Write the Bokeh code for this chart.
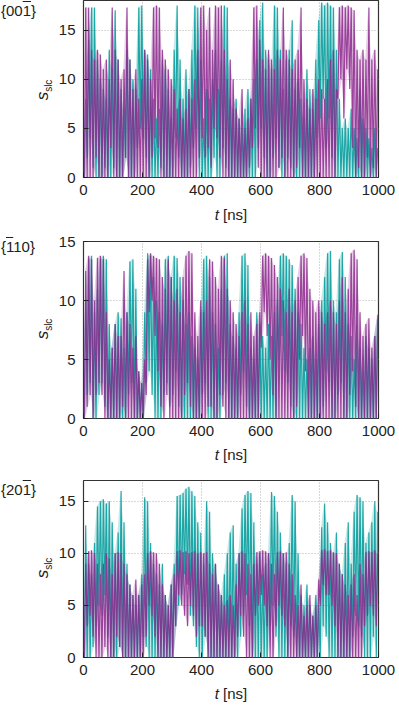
from bokeh.plotting import figure
from bokeh.models import Range1d, FixedTicker, Div
from bokeh.layouts import column, row
from bokeh.embed import file_html
from bokeh.resources import INLINE

# ---------------- data (10 ns bins: low / high of each trace) ----------------
BIN_NS = 10
x_ticks = [0, 200, 400, 600, 800, 1000]
y_ticks = [0, 5, 10, 15]
panel_labels = ['{00<span style="text-decoration:overline">1</span>}',
                '{<span style="text-decoration:overline">1</span>10}',
                '{20<span style="text-decoration:overline">1</span>}']
x_title = "<i>t</i> [ns]"
y_title = '<i>s</i><sub style="font-size:10px">slc</sub>'

s001_teal_hi = [8, 14, 17.3, 17.3, 12, 10, 9, 8, 13, 11,
                17, 12, 9, 7, 13, 12, 10, 9, 17.3, 17.5,
                13, 12.5, 11, 8, 6, 7, 12, 11, 9, 6,
                13, 17.5, 12, 8, 11, 9, 13, 17.5, 17.3, 12,
                6, 9, 8, 10, 13, 9, 12, 17.5, 17.3, 8,
                7, 8, 6, 5, 7, 9, 8, 10, 12, 16,
                17.8, 13, 12, 11, 17.5, 17.3, 13, 9, 12, 13,
                16, 9, 10, 8, 6, 11, 9, 7, 12, 16,
                17.8, 17.5, 17.8, 17.5, 17.3, 13, 8, 5, 6, 5,
                7, 5, 4, 9, 6, 5, 4, 3, 5, 3]
s001_teal_lo = [0, 2, 4, 1, 0, 0, 0, 1, 0, 0,
                1, 0, 0, 0, 2, 0, 0, 0, 3, 5,
                4, 2, 0, 0, 0, 0, 1, 0, 0, 0,
                0, 4, 2, 0, 0, 0, 1, 3, 5, 0,
                0, 0, 0, 0, 2, 0, 0, 3, 1, 0,
                0, 0, 0, 0, 0, 0, 0, 0, 0, 3,
                5, 2, 0, 0, 2, 4, 1, 0, 0, 2,
                1, 0, 0, 0, 0, 0, 0, 0, 0, 4,
                6, 8, 3, 6, 2, 0, 0, 0, 0, 0,
                0, 0, 0, 0, 0, 0, 0, 0, 0, 0]
s001_purple_hi = [17.3, 17.3, 13, 12, 13, 12.5, 11, 12, 10, 17.3,
                  13, 12, 10, 11, 17.3, 12, 9, 11, 8, 10,
                  13, 12, 10, 17.3, 17.5, 17.3, 13, 12, 11, 10,
                  9, 7, 8, 6, 7, 9, 8, 10, 13, 17.3,
                  17.5, 15, 17.3, 13, 17.5, 17.3, 17.5, 13, 10, 12,
                  10, 7, 6, 9, 5, 6, 8, 17.3, 17.5, 14,
                  12, 11, 13, 12, 11, 13, 12, 17.3, 13, 12,
                  11, 12, 13, 17.3, 10, 8, 7, 9, 8, 10,
                  9, 8, 10, 12, 13, 9, 17.3, 17.5, 17.3, 17.5,
                  17.3, 17, 13, 12, 13, 12, 17.3, 12, 13, 11]
s001_purple_lo = [0, 0, 0, 0, 2, 0, 0, 0, 0, 3,
                  0, 0, 0, 0, 2, 0, 0, 0, 0, 0,
                  0, 0, 0, 2, 4, 3, 0, 0, 0, 0,
                  0, 0, 0, 0, 0, 0, 0, 0, 0, 2,
                  4, 2, 3, 1, 5, 4, 2, 0, 0, 0,
                  0, 0, 0, 0, 0, 0, 1, 3, 5, 1,
                  0, 0, 0, 0, 0, 0, 1, 2, 0, 0,
                  0, 0, 1, 3, 0, 0, 0, 0, 0, 0,
                  0, 0, 0, 0, 0, 0, 8, 10, 6, 11,
                  9, 3, 0, 1, 0, 0, 2, 0, 1, 0]

s110_teal_hi = [10, 13.5, 13.8, 9, 11, 13.5, 13.8, 13.5, 8, 6,
                8, 9, 8.5, 6, 9, 13.3, 13.5, 11, 4, 3,
                9, 14, 13.8, 12, 10, 9, 8, 13.5, 13.8, 12,
                13.8, 13.6, 12, 10, 8, 9, 7, 6, 5, 9,
                13.5, 13.8, 12, 9, 8, 6, 11, 13.8, 14, 8,
                7, 6, 9, 13.8, 14, 13, 6, 5, 9, 8,
                7, 6, 8, 7, 9, 10, 13.8, 14, 13.8, 13.5,
                13, 11, 9, 8, 6, 5, 6, 7, 5, 8,
                10, 12, 14, 14.2, 10, 9, 13.5, 14.1, 12, 8,
                7, 5, 8, 6, 4, 7, 6, 5, 7, 8.5]
s110_teal_lo = [0, 2, 3, 0, 0, 2, 3, 1, 0, 0,
                0, 0, 0, 0, 0, 2, 3, 0, 0, 0,
                0, 3, 4, 2, 0, 0, 0, 2, 3, 1,
                2, 4, 1, 0, 0, 0, 0, 0, 0, 0,
                2, 3, 0, 0, 0, 0, 0, 2, 3, 0,
                0, 0, 0, 2, 4, 1, 0, 0, 0, 0,
                0, 0, 0, 0, 0, 0, 5, 7, 4, 3,
                1, 0, 0, 0, 0, 0, 0, 0, 0, 0,
                0, 1, 4, 3, 0, 0, 2, 3, 0, 0,
                0, 0, 0, 0, 0, 0, 0, 0, 0, 0]
s110_purple_hi = [12.5, 13.8, 13.5, 10, 13.6, 13.8, 13.5, 9, 5, 6,
                  8, 7, 7, 12.5, 9, 8, 6, 7, 4, 3,
                  5, 13.5, 14, 13.8, 13.6, 13.5, 12, 11, 13.5, 12,
                  10, 11, 9, 12, 13.8, 14.2, 14, 9, 7, 10,
                  9, 10, 13.5, 13.3, 12, 11, 13.8, 13.6, 11, 10,
                  9, 8, 7, 9, 10, 8, 9, 7, 8, 9,
                  13.8, 14, 13.8, 13.6, 13, 12, 11, 10, 9, 11,
                  9, 10, 12, 13.8, 14, 13.6, 11, 10, 9, 10,
                  9, 8, 9, 10, 9, 8, 10, 12, 9, 11,
                  14, 14.3, 13.5, 9, 7, 8, 8.5, 6, 7, 8.8]
s110_purple_lo = [0, 1, 2, 0, 2, 3, 2, 0, 0, 0,
                  0, 0, 0, 1, 0, 0, 0, 0, 0, 0,
                  0, 2, 9, 10, 7, 4, 1, 0, 2, 0,
                  0, 0, 0, 0, 2, 3, 1, 0, 0, 0,
                  0, 0, 1, 1, 0, 0, 2, 1, 0, 0,
                  0, 0, 0, 0, 0, 0, 0, 0, 0, 0,
                  6, 9, 7, 5, 2, 0, 0, 0, 0, 0,
                  0, 0, 1, 5, 7, 4, 0, 0, 0, 0,
                  0, 0, 0, 0, 0, 0, 0, 0, 0, 0,
                  2, 4, 1, 0, 0, 0, 0, 0, 0, 0]

s201_teal_hi = [12.7, 9, 8, 11, 14.5, 15, 15.2, 14.8, 15, 13,
                10, 12, 16, 13, 9, 7, 6, 5, 6, 8,
                15.4, 15, 11, 9, 8, 7, 9, 6, 5, 7,
                9, 15.5, 15.6, 15.8, 16.2, 16.4, 16, 15.5, 13, 12,
                9, 15, 14, 10, 9, 7, 6, 8, 10, 12,
                12.7, 9, 10, 14.3, 15.6, 16, 15.8, 13, 9, 10,
                8, 9, 10, 15.9, 15.5, 14, 12, 10, 9, 11,
                15.6, 15, 10, 6, 5, 7, 5, 4, 6, 5,
                12.5, 14.8, 13, 11, 10, 12, 9, 8, 11, 13,
                9, 14, 15.6, 15.4, 15, 11, 12, 13, 15, 14]
s201_teal_lo = [0, 0, 0, 1, 3, 5, 4, 6, 2, 0,
                0, 0, 1, 0, 0, 0, 0, 0, 0, 0,
                2, 1, 0, 0, 0, 0, 0, 0, 0, 0,
                0, 3, 5, 6, 8, 7, 4, 3, 1, 0,
                0, 2, 0, 0, 0, 0, 0, 0, 0, 0,
                0, 0, 0, 2, 4, 6, 3, 0, 0, 0,
                0, 0, 0, 3, 5, 2, 0, 0, 0, 0,
                3, 2, 0, 0, 0, 0, 0, 0, 0, 0,
                0, 3, 2, 0, 0, 0, 0, 0, 0, 0,
                0, 2, 4, 3, 2, 0, 0, 0, 2, 0]
s201_purple_hi = [9, 10.2, 10.3, 10, 9, 8, 9, 10, 9.5, 8,
                  10, 10.1, 10, 9, 8, 7, 6, 7.5, 6, 7,
                  8, 10, 10.2, 10.1, 10, 9, 7, 6, 5, 7,
                  8, 10.2, 10.3, 10.1, 10.2, 10, 10.1, 10.2, 10, 10.1,
                  10, 10.1, 9, 8, 9, 7, 6, 5, 5.5, 6,
                  5, 7, 10, 10.2, 10, 9, 8, 9, 10.1, 10.2,
                  10.3, 10.2, 10, 9, 8, 10.1, 10.2, 10, 10.1, 9,
                  8, 6, 5, 7, 4, 5, 6, 4, 5, 7.5,
                  10.3, 10.4, 10.2, 10.3, 10.1, 10, 9, 8, 7, 6,
                  7, 8, 6, 9, 8, 10.1, 10.2, 10.1, 10.3, 10]
s201_purple_lo = [0, 3, 4, 2, 0, 0, 0, 1, 0, 0,
                  0, 2, 1, 0, 0, 0, 0, 0, 0, 0,
                  0, 2, 5, 4, 2, 0, 0, 0, 0, 0,
                  0, 3, 6, 5, 4, 3, 5, 4, 2, 3,
                  3, 2, 0, 0, 0, 0, 0, 0, 0, 0,
                  0, 0, 2, 4, 2, 0, 0, 0, 4, 5,
                  6, 5, 3, 0, 0, 3, 5, 4, 3, 0,
                  0, 0, 0, 0, 0, 0, 0, 0, 0, 0,
                  5, 7, 6, 6, 5, 3, 0, 0, 0, 0,
                  0, 0, 0, 0, 0, 3, 4, 5, 4, 3]

TEAL = "#009a9a"
PURPLE = "#8d2a8e"
FONT = "Liberation Sans"
INK = "#222222"
LEFT_W = 53
FIG_W = 346


def zig(lo, hi):
    xs, ys = [], []
    for i, (a, b) in enumerate(zip(lo, hi)):
        xs += [BIN_NS * i + 2.5, BIN_NS * i + 7.5]
        ys += [a, b]
    return xs, ys


def centers(n):
    return [BIN_NS * i + BIN_NS / 2 for i in range(n)]


def make_fig(ymax, height, btop, bbot, teal, purple):
    p = figure(width=FIG_W, height=height, x_range=Range1d(0, 1000), y_range=Range1d(0, ymax),
               output_backend="svg", toolbar_location=None,
               min_border_left=30, min_border_right=21, min_border_top=btop, min_border_bottom=bbot)
    p.background_fill_color = "white"
    p.border_fill_color = "white"
    p.outline_line_color = "#333333"
    p.outline_line_width = 1.2
    for ax, ticks in ((p.xaxis[0], x_ticks), (p.yaxis[0], y_ticks)):
        ax.ticker = FixedTicker(ticks=ticks)
        ax.axis_line_color = None
        ax.major_tick_in = 5
        ax.major_tick_out = 0
        ax.major_tick_line_color = INK
        ax.minor_tick_line_color = None
        ax.major_label_text_font = FONT
        ax.major_label_text_font_size = "15px"
        ax.major_label_text_color = INK
    p.xaxis[0].major_label_standoff = 7
    p.yaxis[0].major_label_standoff = 8
    p.xgrid.ticker = FixedTicker(ticks=x_ticks)
    p.ygrid.ticker = FixedTicker(ticks=y_ticks)
    for g in (p.xgrid, p.ygrid):
        g.grid_line_color = "#b0b0b0"
        g.grid_line_dash = "1 2"
        g.grid_line_width = 1
    for (lo, hi), col in ((teal, TEAL), (purple, PURPLE)):
        p.varea(x=centers(len(lo)), y1=lo, y2=hi, fill_color=col, fill_alpha=0.22)
    for (lo, hi), col in ((teal, TEAL), (purple, PURPLE)):
        xs, ys = zig(lo, hi)
        p.line(xs, ys, line_color=col, line_width=1.2, line_alpha=0.85)
    return p


def left_div(h, label_html, label_top, yc):
    html = (f'<div style="position:relative;width:{LEFT_W}px;height:{h}px;'
            f'font-family:\'{FONT}\';color:{INK};">'
            f'<div style="position:absolute;left:1px;top:{label_top}px;font-size:15px;'
            f'line-height:16px;white-space:nowrap;">{label_html}</div>'
            f'<div style="position:absolute;left:46px;top:{yc}px;'
            f'transform:translate(-50%,-50%) rotate(-90deg);font-size:17px;line-height:18px;'
            f'white-space:nowrap;">{y_title}</div></div>')
    return Div(text=html, width=LEFT_W, height=h, margin=0)


def title_div(h):
    html = (f'<div style="position:relative;width:399px;height:{h}px;'
            f'font-family:\'{FONT}\';color:{INK};">'
            f'<div style="position:absolute;left:231px;top:0;transform:translateX(-50%);'
            f'font-size:15px;line-height:{h}px;white-space:nowrap;">{x_title}</div></div>')
    return Div(text=html, width=399, height=h, margin=0)


f1 = make_fig(18, 202, 0, 25, (s001_teal_lo, s001_teal_hi), (s001_purple_lo, s001_purple_hi))
f2 = make_fig(15, 215, 13, 25, (s110_teal_lo, s110_teal_hi), (s110_purple_lo, s110_purple_hi))
f3 = make_fig(17, 215, 13, 25, (s201_teal_lo, s201_teal_hi), (s201_purple_lo, s201_purple_hi))

layout = column(
    row(left_div(202, panel_labels[0], 3, 90), f1, spacing=0),
    title_div(26),
    row(left_div(215, panel_labels[1], 11, 101), f2, spacing=0),
    title_div(24),
    row(left_div(215, panel_labels[2], 15, 101), f3, spacing=0),
    title_div(24),
    spacing=0,
)
open("out.html", "w").write(file_html(layout, INLINE))
